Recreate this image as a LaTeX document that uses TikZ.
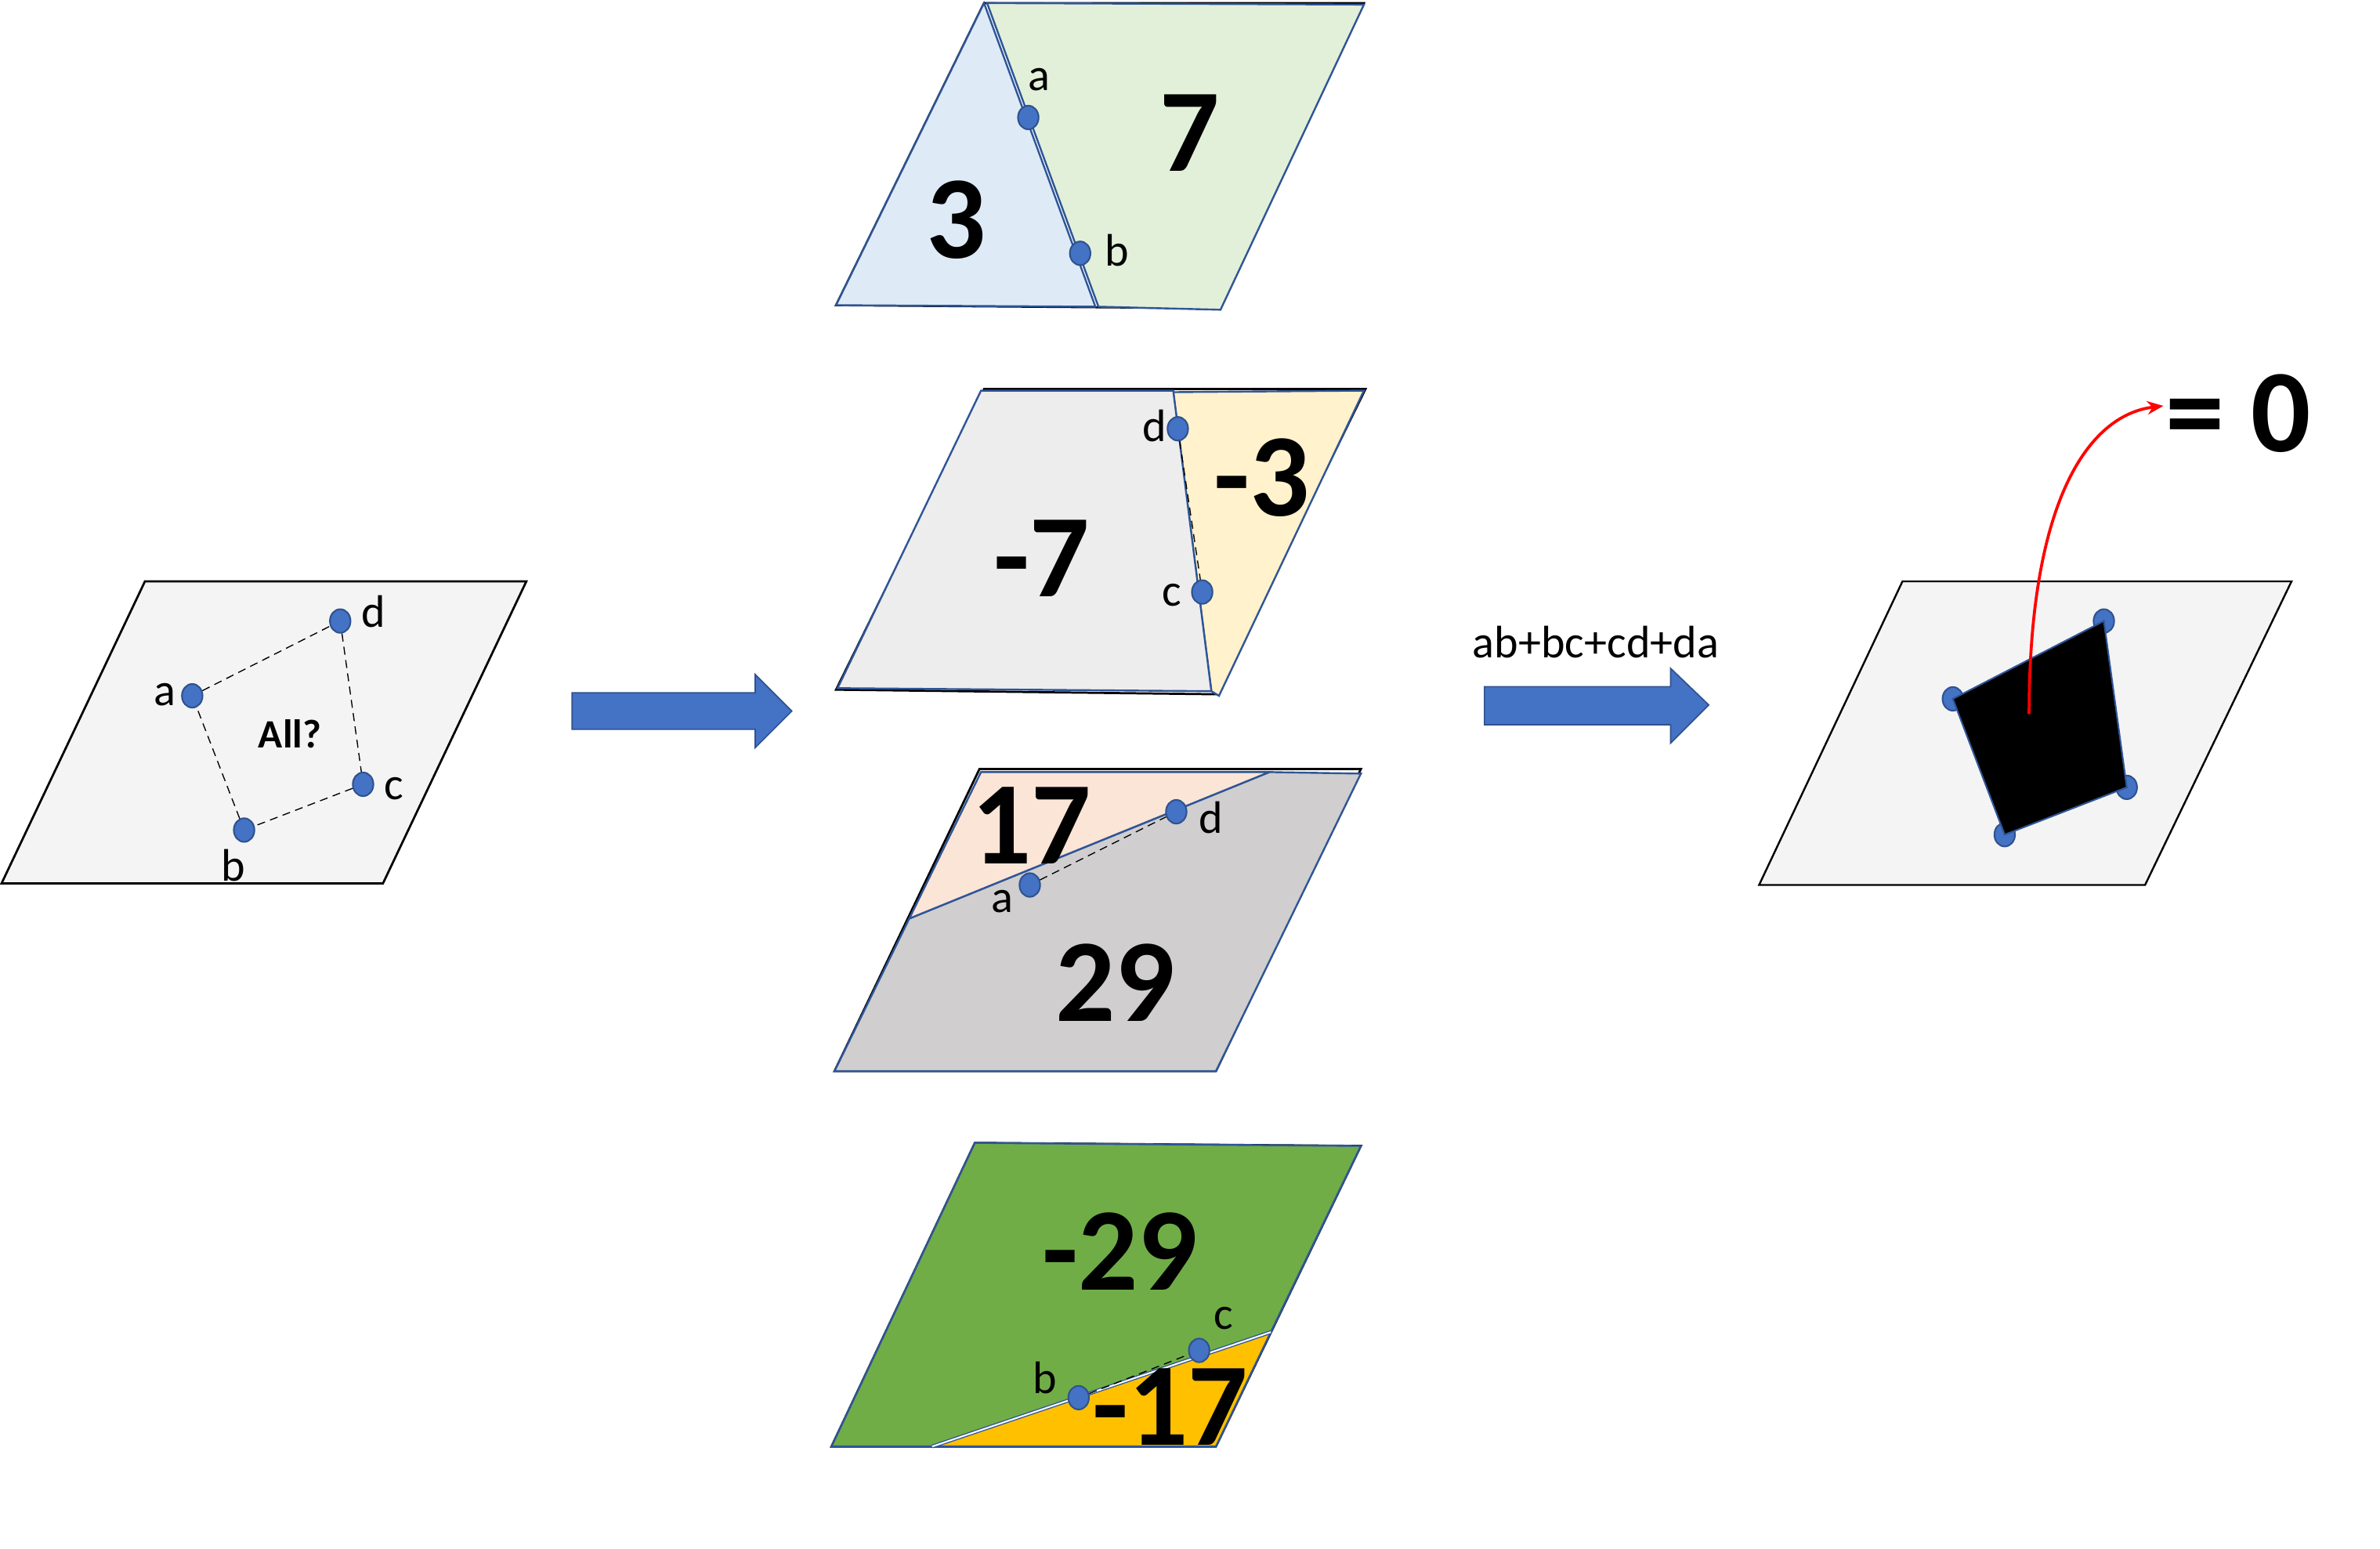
\documentclass[tikz,border=0pt]{standalone}
\usepackage{fontspec}
\setmainfont{Carlito}
\usetikzlibrary{shapes.geometric,arrows.meta}
\definecolor{dotblue}{HTML}{4472C4}
\definecolor{dotedge}{HTML}{2F528F}
\definecolor{edgeblue}{HTML}{2F5597}
\definecolor{planegray}{HTML}{F4F4F4}
\definecolor{lightblue}{HTML}{DEEBF7}
\definecolor{lightgreen}{HTML}{E2F0D9}
\definecolor{lightgray}{HTML}{EDEDED}
\definecolor{lightyellow}{HTML}{FFF2CC}
\definecolor{peach}{HTML}{FBE5D6}
\definecolor{midgray}{HTML}{D0CECE}
\definecolor{grassgreen}{HTML}{70AD47}
\definecolor{gold}{HTML}{FFC000}
\begin{document}
\begin{tikzpicture}[x=0.02cm,y=-0.02cm,
  dot/.style={ellipse,draw=dotedge,fill=dotblue,line width=0.6pt,minimum width=0.27cm,minimum height=0.31cm,inner sep=0pt},
  lbl/.style={font=\fontsize{17}{19}\selectfont,inner sep=0pt},
  big/.style={font=\bfseries\fontsize{44}{48}\selectfont,inner sep=0pt},
  link/.style={densely dashed,line width=0.4pt},
  piece/.style={draw=edgeblue,line width=0.7pt},
  bigarrow/.style={fill=dotblue,draw=dotedge,line width=0.5pt}]

\useasboundingbox (0,0) rectangle (1560,1015);

\filldraw[fill=planegray,line width=0.8pt] (95,381) -- (345,381) -- (251,579) -- (1,579) -- cycle;
\node[dot] (a0) at (126,456) {};
\node[dot] (d0) at (223,407) {};
\node[dot] (c0) at (238,514) {};
\node[dot] (b0) at (160,544) {};
\draw[link] (a0) -- (d0) -- (c0) -- (b0) -- (a0);
\node[lbl] (la0) at (108,455) {a};
\node[lbl] (ld0) at (245,401) {d};
\node[lbl] (lc0) at (258,517) {c};
\node[lbl] (lb0) at (153,567) {b};
\node[font=\bfseries\fontsize{15}{18}\selectfont] (all) at (190,481) {All?};

\filldraw[bigarrow] (375,454) -- (495,454) -- (495,442) -- (519,466) -- (495,490) -- (495,478) -- (375,478) -- cycle;

\draw[line width=0.8pt] (645,2) -- (894,2) -- (800,202) -- (548,200) -- cycle;
\filldraw[piece,fill=lightgreen] (647,2) -- (894,3) -- (800,203) -- (720,201) -- cycle;
\filldraw[piece,fill=lightblue] (645,2) -- (718,201) -- (548,200) -- cycle;
\node[dot] (a1) at (674,77) {};
\node[dot] (b1) at (708,166) {};
\node[lbl] (la1) at (681,52) {a};
\node[lbl] (lb1) at (732,164) {b};
\node[big] (n3) at (627,144) {3};
\node[big] (n7) at (780,87) {7};

\draw[line width=0.8pt] (645,255) -- (895,255) -- (797,455) -- (548,452) -- cycle;
\filldraw[piece,fill=lightyellow] (769,257) -- (894,256) -- (799,456) -- (794,453) -- cycle;
\filldraw[piece,fill=lightgray] (643,256) -- (769,256) -- (794,453) -- (549,451) -- cycle;
\node[dot] (d2) at (772,281) {};
\node[dot] (c2) at (788,388) {};
\draw[link] (d2) -- (c2);
\node[lbl] (ld2) at (757,279) {d};
\node[lbl] (lc2) at (768,390) {c};
\node[big] (m7) at (683,366) {-7};
\node[big] (m3) at (827,313) {-3};

\draw[line width=0.8pt] (642,504) -- (892,504) -- (797,702) -- (547,702) -- cycle;
\filldraw[piece,fill=midgray] (832,506) -- (892,507) -- (797,702) -- (547,702) -- (596,602) -- cycle;
\filldraw[piece,fill=peach] (643,506) -- (832,506) -- (596,602) -- cycle;
\node[dot] (a3) at (675,580) {};
\node[dot] (d3) at (771,532) {};
\draw[link] (a3) -- (d3);
\node[lbl] (la3) at (657,591) {a};
\node[lbl] (ld3) at (794,536) {d};
\node[big] (n17) at (676,541) {17};
\node[big] (n29) at (731,644) {29};

\draw[line width=0.8pt] (639,749) -- (892,751) -- (797,948) -- (545,948) -- cycle;
\filldraw[piece,fill=grassgreen] (639,749) -- (892,751) -- (833,873) -- (611,948) -- (545,948) -- cycle;
\filldraw[piece,fill=gold] (611,948) -- (833,873) -- (797,948) -- cycle;
\draw[edgeblue,double=white,double distance=0.6pt,line width=0.4pt] (611,948) -- (833,873);
\node[dot] (b4) at (707,916) {};
\node[dot] (c4) at (786,885) {};
\draw[link] (b4) -- (c4);
\node[lbl] (lb4) at (685,903) {b};
\node[lbl] (lc4) at (802,864) {c};
\node[big] (m29) at (734,820) {-29};
\node[big] (m17) at (767,922) {-17};

\node[font=\fontsize{17}{19}\selectfont] (sum) at (1046,421) {ab+bc+cd+da};
\filldraw[bigarrow] (973,450) -- (1095,450) -- (1095,438) -- (1120,462) -- (1095,487) -- (1095,475) -- (973,475) -- cycle;

\filldraw[fill=planegray,line width=0.7pt] (1247,381) -- (1502,381) -- (1406,580) -- (1153,580) -- cycle;
\node[dot] (a5) at (1280,458) {};
\node[dot] (d5) at (1379,407) {};
\node[dot] (c5) at (1394,516) {};
\node[dot] (b5) at (1314,547) {};
\filldraw[fill=black,draw=edgeblue,line width=0.6pt] (a5.center) -- (d5.center) -- (c5.center) -- (b5.center) -- cycle;

\coordinate (rs) at (1330,468);
\coordinate (re) at (1418,266);
\node[big] (zero) at (1467,271) {= 0};
\draw[red,line width=1.1pt,-{Stealth[length=6pt,width=5pt]}] (rs) .. controls (1330,330) and (1368,272) .. (re);

\end{tikzpicture}
\end{document}
